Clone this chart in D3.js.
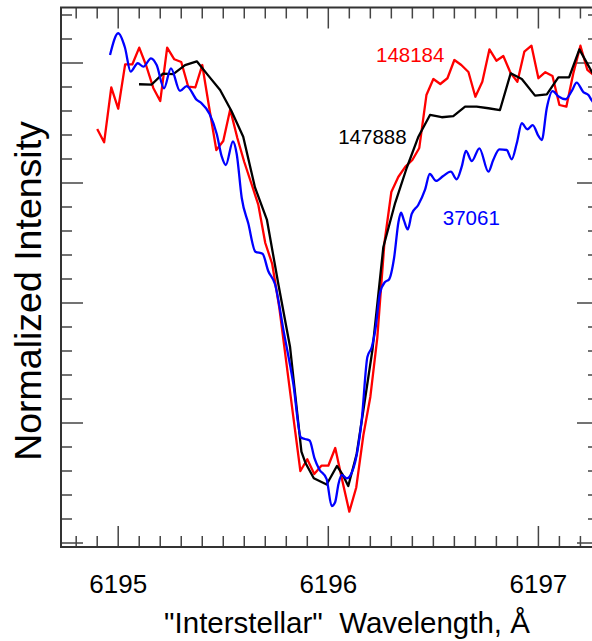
<!DOCTYPE html>
<html>
<head>
<meta charset="utf-8">
<script src="https://cdn.jsdelivr.net/npm/d3@7/dist/d3.min.js"></script>
<style>
  html, body { margin: 0; padding: 0; background: #fff; }
  svg { display: block; }
  text { font-family: Arial, "Liberation Sans", sans-serif; }
</style>
</head>
<body>
<script>
// DIB 6196 profile in three stars (wavelength in Å, normalized intensity)
const wave148184 = [6194.900, 6194.933, 6194.967, 6195.000, 6195.033, 6195.067, 6195.100, 6195.133,
  6195.167, 6195.200, 6195.233, 6195.267, 6195.300, 6195.333, 6195.367, 6195.400, 6195.433, 6195.467,
  6195.500, 6195.533, 6195.567, 6195.600, 6195.633, 6195.667, 6195.700, 6195.733, 6195.767, 6195.800,
  6195.833, 6195.867, 6195.900, 6195.933, 6195.967, 6196.000, 6196.033, 6196.067, 6196.100, 6196.133,
  6196.167, 6196.200, 6196.233, 6196.267, 6196.300, 6196.333, 6196.367, 6196.400, 6196.433, 6196.467,
  6196.500, 6196.533, 6196.567, 6196.600, 6196.633, 6196.667, 6196.700, 6196.733, 6196.767, 6196.800,
  6196.833, 6196.867, 6196.900, 6196.933, 6196.967, 6197.000, 6197.033, 6197.067, 6197.100, 6197.133,
  6197.167, 6197.200, 6197.233, 6197.267];
const flux148184 = [0.9450, 0.9339, 0.9796, 0.9619, 0.9988, 0.9988, 1.0128, 0.9979,
  0.9792, 0.9683, 1.0128, 1.0031, 1.0008, 0.9804, 0.9796, 0.9983, 0.9629, 0.9275,
  0.9350, 0.9613, 0.9375, 0.9175, 0.9000, 0.8817, 0.8500, 0.8325, 0.7958, 0.7508,
  0.7058, 0.6600, 0.6698, 0.6575, 0.6644, 0.6644, 0.6792, 0.6517, 0.6261, 0.6463,
  0.6900, 0.7217, 0.7708, 0.8500, 0.8925, 0.9050, 0.9136, 0.9192, 0.9292, 0.9733,
  0.9867, 0.9825, 0.9873, 1.0025, 0.9983, 0.9925, 0.9719, 0.9844, 1.0114, 1.0019,
  1.0058, 0.9919, 0.9844, 1.0094, 1.0144, 0.9873, 0.9923, 0.9892, 0.9650, 0.9636,
  0.9920, 1.0144, 0.9942, 0.9892];

const wave147888 = [6195.099, 6195.158, 6195.213, 6195.262, 6195.318, 6195.374, 6195.427, 6195.485,
  6195.539, 6195.595, 6195.651, 6195.708, 6195.763, 6195.818, 6195.872, 6195.892, 6195.931, 6195.992,
  6196.041, 6196.069, 6196.095, 6196.135, 6196.167, 6196.210, 6196.262, 6196.318, 6196.373, 6196.428,
  6196.484, 6196.540, 6196.595, 6196.651, 6196.706, 6196.762, 6196.817, 6196.868, 6196.921, 6196.984,
  6197.040, 6197.095, 6197.146, 6197.195, 6197.254, 6197.310];
const flux147888 = [0.9823, 0.9819, 0.9911, 0.9908, 0.9983, 1.0014, 0.9899, 0.9775,
  0.9600, 0.9386, 0.8963, 0.8692, 0.8150, 0.7633, 0.6761, 0.6664, 0.6539, 0.6488,
  0.6642, 0.6567, 0.6475, 0.6742, 0.7108, 0.7608, 0.8467, 0.8833, 0.9125, 0.9383,
  0.9567, 0.9548, 0.9558, 0.9636, 0.9636, 0.9623, 0.9608, 0.9914, 0.9867, 0.9728,
  0.9739, 0.9881, 0.9881, 1.0114, 0.9928, 0.9758];

const wave37061 = [6194.961, 6195.000, 6195.032, 6195.059, 6195.093, 6195.120, 6195.156, 6195.183,
  6195.218, 6195.251, 6195.294, 6195.326, 6195.374, 6195.397, 6195.435, 6195.469, 6195.493, 6195.512,
  6195.546, 6195.564, 6195.588, 6195.619, 6195.653, 6195.687, 6195.714, 6195.746, 6195.789, 6195.833,
  6195.870, 6195.889, 6195.911, 6195.934, 6195.956, 6195.992, 6196.016, 6196.032, 6196.049, 6196.064,
  6196.088, 6196.103, 6196.135, 6196.159, 6196.186, 6196.207, 6196.225, 6196.246, 6196.270, 6196.289,
  6196.313, 6196.334, 6196.346, 6196.360, 6196.378, 6196.397, 6196.428, 6196.460, 6196.483, 6196.513,
  6196.547, 6196.583, 6196.611, 6196.635, 6196.655, 6196.683, 6196.719, 6196.762, 6196.785, 6196.814,
  6196.849, 6196.873, 6196.897, 6196.921, 6196.947, 6196.973, 6197.000, 6197.016, 6197.040, 6197.067,
  6197.096, 6197.129, 6197.159, 6197.182, 6197.214, 6197.238, 6197.254, 6197.284];
const flux37061 = [1.0067, 1.0248, 1.0129, 0.9928, 0.9998, 0.9969, 1.0039, 0.9983,
  0.9789, 0.9956, 0.9767, 0.9808, 0.9692, 0.9664, 0.9575, 0.9408, 0.9219, 0.9150,
  0.9346, 0.9242, 0.8875, 0.8664, 0.8428, 0.8411, 0.8267, 0.8158, 0.7750, 0.7331,
  0.6879, 0.6867, 0.6854, 0.6708, 0.6617, 0.6533, 0.6308, 0.6338, 0.6496, 0.6567,
  0.6539, 0.6558, 0.6733, 0.7025, 0.7550, 0.7633, 0.7792, 0.8083, 0.8175, 0.8196,
  0.8375, 0.8675, 0.8753, 0.8688, 0.8613, 0.8742, 0.8817, 0.8942, 0.9075, 0.9017,
  0.9058, 0.9094, 0.9031, 0.9136, 0.9267, 0.9183, 0.9289, 0.9094, 0.9192, 0.9281,
  0.9275, 0.9198, 0.9331, 0.9498, 0.9448, 0.9483, 0.9392, 0.9358, 0.9625, 0.9765,
  0.9721, 0.9698, 0.9767, 0.9836, 0.9758, 0.9733, 0.9688, 0.9625];

const starNames = ["148184", "147888", "37061"];
const starColors = ["#ff0000", "#000000", "#0000ff"];
// label anchor (wavelength, intensity) for each star name
const labelWave = [6196.227, 6196.047, 6196.545];
const labelFlux = [1.0011, 0.9328, 0.8649];

const xTickLabels = [6195, 6196, 6197];

const W = 592, H = 641;
const plot = { left: 61, right: 599, top: 7.5, bottom: 547 };

const svg = d3.select("body").append("svg").attr("width", W).attr("height", H);

const x = d3.scaleLinear().domain([6194.7277, 6197.2884]).range([plot.left, plot.right]);
const y = d3.scaleLinear().domain([0.59667, 1.04625]).range([plot.bottom, plot.top]);

svg.append("clipPath").attr("id", "plotClip")
  .append("rect")
  .attr("x", plot.left).attr("y", plot.top)
  .attr("width", plot.right - plot.left).attr("height", plot.bottom - plot.top);

const tickColor = "#444";

// minor/major ticks on all four sides, pointing inward
const xMinor = d3.range(6194.8, 6197.25, 0.1).map(v => +v.toFixed(1));
const yMinor = d3.range(0.60, 1.045, 0.02).map(v => +v.toFixed(2));
const isMajorX = v => Math.abs(v - Math.round(v)) < 1e-6;
const isMajorY = v => Math.abs(v * 10 - Math.round(v * 10)) < 1e-6;

const ticks = svg.append("g").attr("stroke", tickColor).attr("stroke-width", 1.5);

xMinor.forEach(v => {
  const len = isMajorX(v) ? 21 : 11;
  const px = x(v);
  ticks.append("line").attr("x1", px).attr("x2", px).attr("y1", plot.bottom).attr("y2", plot.bottom - len);
  ticks.append("line").attr("x1", px).attr("x2", px).attr("y1", plot.top).attr("y2", plot.top + len);
});
yMinor.forEach(v => {
  const len = isMajorY(v) ? 22 : 11;
  const py = y(v);
  ticks.append("line").attr("x1", plot.left).attr("x2", plot.left + len).attr("y1", py).attr("y2", py);
  ticks.append("line").attr("x1", plot.right).attr("x2", plot.right - len).attr("y1", py).attr("y2", py);
});

// spectra
const series = [
  { name: starNames[0], wave: wave148184, flux: flux148184, curve: d3.curveLinear },
  { name: starNames[1], wave: wave147888, flux: flux147888, curve: d3.curveLinear },
  { name: starNames[2], wave: wave37061, flux: flux37061, curve: d3.curveMonotoneX }
];

const lines = svg.append("g").attr("clip-path", "url(#plotClip)");
series.forEach((s, i) => {
  const pts = s.wave.map((w, j) => [w, s.flux[j]]);
  const line = d3.line().x(d => x(d[0])).y(d => y(d[1])).curve(s.curve);
  lines.append("path")
    .attr("d", line(pts))
    .attr("fill", "none")
    .attr("stroke", starColors[i])
    .attr("stroke-width", 2.3)
    .attr("stroke-linejoin", "round");
});

// frame
svg.append("rect")
  .attr("x", plot.left).attr("y", plot.top)
  .attr("width", plot.right - plot.left).attr("height", plot.bottom - plot.top)
  .attr("fill", "none").attr("stroke", "#333").attr("stroke-width", 2);

// star labels
starNames.forEach((n, i) => {
  svg.append("text")
    .attr("x", x(labelWave[i])).attr("y", y(labelFlux[i]))
    .attr("font-size", 20.5).attr("fill", starColors[i])
    .text(n);
});

// x tick labels
svg.append("g").selectAll("text").data(xTickLabels).join("text")
  .attr("x", d => x(d)).attr("y", 593)
  .attr("text-anchor", "middle").attr("font-size", 26).attr("fill", "#000")
  .text(d => d);

// axis titles
svg.append("text")
  .attr("x", 347).attr("y", 633)
  .attr("text-anchor", "middle").attr("font-size", 29.5).attr("fill", "#000")
  .style("white-space", "pre")
  .text("\"Interstellar\"  Wavelength, Å");

svg.append("text")
  .attr("transform", "translate(41,291) rotate(-90)")
  .attr("text-anchor", "middle").attr("font-size", 37.5).attr("fill", "#000")
  .text("Normalized Intensity");
</script>
</body>
</html>
